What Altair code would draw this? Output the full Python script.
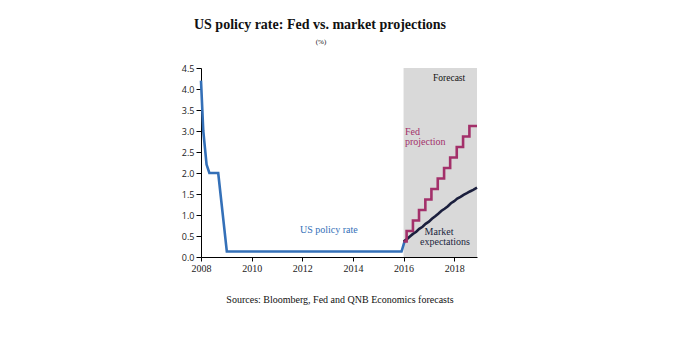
import altair as alt
import pandas as pd

# ---- data ----
policy_t = [2008.0, 2008.09, 2008.22, 2008.33, 2008.68, 2009.02, 2015.92, 2016.04]
policy_v = [4.2, 3.0, 2.2, 2.0, 2.0, 0.13, 0.13, 0.37]

fed_t = [2016.0, 2016.12, 2016.37, 2016.61, 2016.86, 2017.1, 2017.35, 2017.6,
         2017.84, 2018.1, 2018.35, 2018.6, 2018.9]
fed_v = [0.37, 0.62, 0.87, 1.12, 1.37, 1.62, 1.87, 2.12, 2.37, 2.62, 2.87, 3.12, 3.12]

mkt_t = [2016.0, 2016.12, 2016.25, 2016.37, 2016.5, 2016.62, 2016.75, 2016.87,
         2017.0, 2017.12, 2017.25, 2017.37, 2017.5, 2017.62, 2017.75, 2017.87,
         2018.0, 2018.12, 2018.25, 2018.37, 2018.5, 2018.62, 2018.75, 2018.9]
mkt_v = [0.37, 0.42, 0.49, 0.55, 0.6, 0.67, 0.72, 0.79,
         0.84, 0.91, 0.97, 1.03, 1.1, 1.15, 1.21, 1.28,
         1.33, 1.39, 1.43, 1.48, 1.52, 1.56, 1.6, 1.65]

x_ticks = [2008, 2010, 2012, 2014, 2016, 2018]
y_ticks = [0.0, 0.5, 1.0, 1.5, 2.0, 2.5, 3.0, 3.5, 4.0, 4.5]

BLUE = "#3470b8"
FED = "#a3306a"
MKT = "#1b1f3d"
SERIF = "Liberation Serif"

policy = pd.DataFrame({"t": policy_t, "v": policy_v})
fed = pd.DataFrame({"t": fed_t, "v": fed_v})
mkt = pd.DataFrame({"t": mkt_t, "v": mkt_v})
shade = pd.DataFrame({"t": [2016.0], "t2": [2018.9], "v": [0.0], "v2": [4.5]})

xs = alt.Scale(domain=[2008, 2018.9], nice=False, zero=False)
ys = alt.Scale(domain=[0, 4.5], nice=False)

xaxis = alt.Axis(values=x_ticks, format="d", title=None, grid=False, tickSize=4,
                 labelFont=SERIF, labelFontSize=10, labelColor="#222",
                 domainColor="#000", tickColor="#000", labelPadding=2,
                 labelOverlap=False, labelFlush=False, labelBound=False)
yaxis = alt.Axis(values=y_ticks, format=".1f", title=None, grid=False, tickSize=5,
                 labelFont="Open Sans", labelFontSize=9, labelColor="#222",
                 domainColor="#000", tickColor="#000", labelPadding=2,
                 labelOverlap=False, labelFlush=False, labelBound=False)

X = alt.X("t:Q", scale=xs, axis=xaxis)
Y = alt.Y("v:Q", scale=ys, axis=yaxis)

shade_l = alt.Chart(shade).mark_rect(color="#d9d9d9").encode(
    x=X, x2="t2:Q", y=Y, y2="v2:Q")

policy_l = alt.Chart(policy).mark_line(color=BLUE, strokeWidth=2.6).encode(x=X, y=Y)
mkt_l = alt.Chart(mkt).mark_line(color=MKT, strokeWidth=2.6).encode(x=X, y=Y)
fed_l = alt.Chart(fed).mark_line(color=FED, strokeWidth=2.6,
                                 interpolate="step-after").encode(x=X, y=Y)

dummy = pd.DataFrame({"a": [0]})

def txt(s, x, y, size=10, color="#111", align="left", weight="normal", font=SERIF):
    return alt.Chart(dummy).mark_text(text=s, align=align, baseline="alphabetic",
                                      fontSize=size, color=color, fontWeight=weight,
                                      font=font).encode(x=alt.value(x), y=alt.value(y))

texts = [
    txt("US policy rate: Fed vs. market projections", 119, -39, size=14, color="#111",
        align="center", weight="bold"),
    txt("(%)", 120, -24, size=7, align="center"),
    txt("Forecast", 232, 13, size=9.5),
    txt("Fed", 204, 67, size=10, color=FED),
    txt("projection", 204, 77, size=10, color=FED),
    txt("Market", 238, 167, size=10, color=MKT, align="center"),
    txt("expectations", 244, 177, size=10, color=MKT, align="center"),
    txt("US policy rate", 99, 165, size=10, color=BLUE),
    txt("Sources: Bloomberg, Fed and QNB Economics forecasts", 139, 235, size=10,
        align="center"),
]

chart = alt.layer(shade_l, policy_l, mkt_l, fed_l, *texts).properties(
    width=276, height=189,
    autosize=alt.AutoSizeParams(type="none"),
    padding={"left": 201, "top": 68, "right": 215, "bottom": 81},
    background="white",
).configure_view(stroke=None)

chart.save("out.html", embed_options={"renderer": "svg", "actions": False})
